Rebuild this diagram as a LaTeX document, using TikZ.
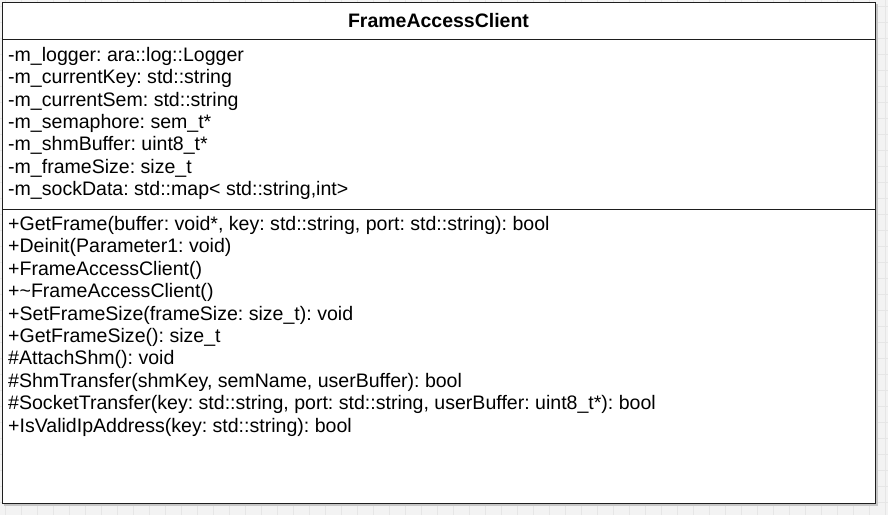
\documentclass[tikz,border=0pt]{standalone}
\usepackage{fontspec}
\setmainfont{Liberation Sans}
\frenchspacing
\definecolor{gridbg}{HTML}{F3F3F3}
\definecolor{gridline}{HTML}{E6E6E6}
\definecolor{boxline}{HTML}{1E1E1E}
\tikzset{
  member/.style={anchor=base west, inner sep=0pt, font=\fontsize{19.55}{22}\selectfont, text=black},
  titletext/.style={anchor=base, inner sep=0pt, font=\fontsize{19.5}{22}\selectfont\bfseries, text=black},
  sepline/.style={draw=boxline, line width=1.4pt},
}
\begin{document}
\begin{tikzpicture}[x=1pt,y=-1pt]
\useasboundingbox (0,0) rectangle (888,515);
\fill[gridbg] (0,0) rectangle (888,515);
\foreach \gx in {5,21,...,885} \draw[gridline, line width=0.8pt] (\gx,0) -- (\gx,515);
\foreach \gy in {6.5,22.5,...,514} \draw[gridline, line width=0.8pt] (0,\gy) -- (888,\gy);
% shadow
\fill[gray!45] (4,4) rectangle (877.5,505.5);
% class box
\node[draw=boxline, line width=1.4pt, fill=white, minimum width=873pt, minimum height=501pt, inner sep=0pt, anchor=north west] (box) at (2,2) {};
\coordinate (s1l) at (2,39.3);
\coordinate (s1r) at (875,39.3);
\coordinate (s2l) at (2,209.3);
\coordinate (s2r) at (875,209.3);
\draw[sepline] (s1l) -- (s1r);
\draw[sepline] (s2l) -- (s2r);
\node[titletext] (title) at (438.5,27) {FrameAccessClient};
% attributes
\node[member] (a1) at (8,61.5) {-m\_logger: ara::log::Logger};
\node[member] (a2) at (8,83.8) {-m\_currentKey: std::string};
\node[member] (a3) at (8,106.1) {-m\_currentSem: std::string};
\node[member] (a4) at (8,128.4) {-m\_semaphore: sem\_t*};
\node[member] (a5) at (8,150.7) {-m\_shmBuffer: uint8\_t*};
\node[member] (a6) at (8,173.0) {-m\_frameSize: size\_t};
\node[member] (a7) at (8,195.3) {-m\_sockData: std::map< std::string,int>};
% methods
\node[member] (m1) at (8,230.5) {+GetFrame(buffer: void*, key: std::string, port: std::string): bool};
\node[member] (m2) at (8,252.9) {+Deinit(Parameter1: void)};
\node[member] (m3) at (8,275.3) {+FrameAccessClient()};
\node[member] (m4) at (8,297.7) {+\char`\~FrameAccessClient()};
\node[member] (m5) at (8,320.1) {+SetFrameSize(frameSize: size\_t): void};
\node[member] (m6) at (8,342.5) {+GetFrameSize(): size\_t};
\node[member] (m7) at (8,364.9) {\#AttachShm(): void};
\node[member] (m8) at (8,387.3) {\#ShmTransfer(shmKey, semName, userBuffer): bool};
\node[member] (m9) at (8,409.7) {\#SocketTransfer(key: std::string, port: std::string, userBuffer: uint8\_t*): bool};
\node[member] (m10) at (8,432.1) {+IsValidIpAddress(key: std::string): bool};
\end{tikzpicture}
\end{document}
